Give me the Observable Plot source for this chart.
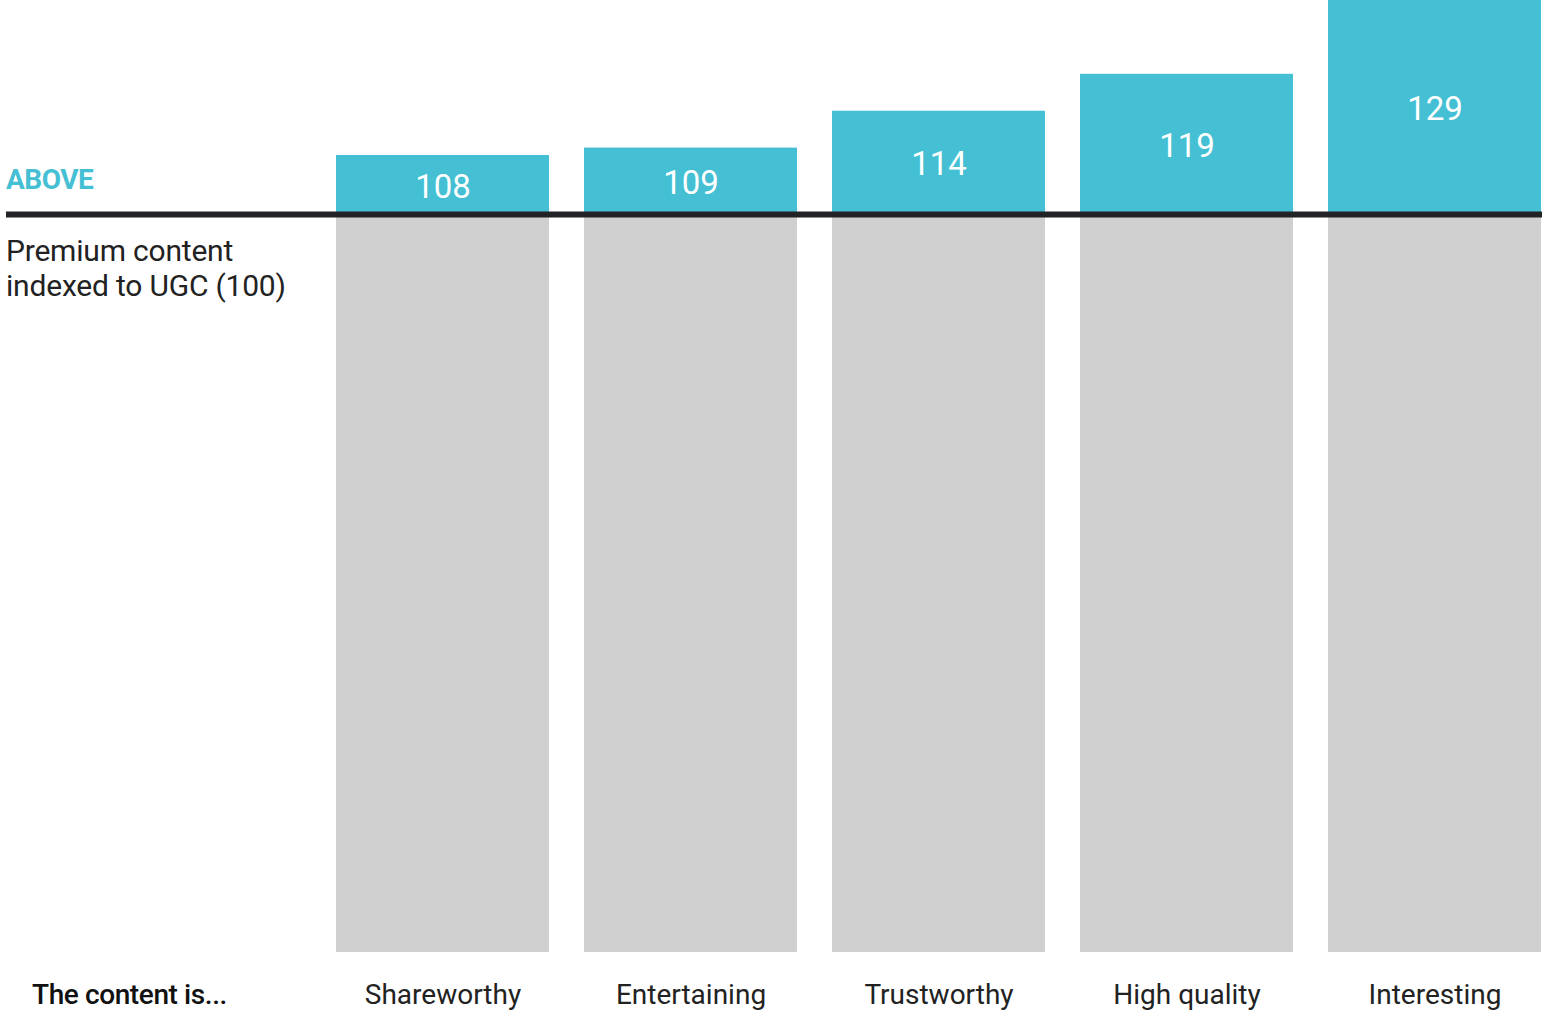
<!DOCTYPE html>
<html>
<head>
<meta charset="utf-8">
<script src="https://cdn.jsdelivr.net/npm/d3@7"></script>
<script src="https://cdn.jsdelivr.net/npm/@observablehq/plot@0.6"></script>
<style>
  html, body { margin: 0; padding: 0; background: #fff; }
  #wrap { position: relative; width: 1542px; height: 1010px; font-family: Roboto, "Liberation Sans", sans-serif; }
  #chart svg { display: block; }
  .ann { position: absolute; left: 6px; white-space: nowrap; }
  #above { top: 163px; color: #45bfd3; font-weight: 700; font-size: 28px; letter-spacing: -0.5px; }
  #premium { top: 233px; color: #222; font-size: 30px; line-height: 35px; letter-spacing: -0.2px; }
  #lead { left: 32px; top: 978px; color: #111; font-weight: 500; font-size: 28px; letter-spacing: -0.4px; }
</style>
</head>
<body>
<div id="wrap">
  <div id="chart"></div>
  <div class="ann" id="above">ABOVE</div>
  <div class="ann" id="premium">Premium content<br>indexed to UGC (100)</div>
  <div class="ann" id="lead">The content is...</div>
</div>
<script>
const categories = ["Shareworthy", "Entertaining", "Trustworthy", "High quality", "Interesting"];
const indexValues = [108, 109, 114, 119, 129];
const baseline = 100;

const data = categories.map((c, i) => ({category: c, value: indexValues[i]}));

const chart = Plot.plot({
  width: 1542,
  height: 1010,
  marginLeft: 335,
  marginRight: 0,
  marginTop: 0,
  marginBottom: 58,
  style: {fontFamily: "Roboto, 'Liberation Sans', sans-serif", background: "#fff"},
  x: {domain: categories, paddingInner: 0.141, paddingOuter: 0, label: null},
  y: {domain: [0, d3.max(indexValues)], axis: null},
  marks: [
    Plot.barY(data, {x: "category", y1: 0, y2: baseline, fill: "#d0d0d0"}),
    Plot.barY(data, {x: "category", y1: baseline, y2: "value", fill: "#45bfd3"}),
    Plot.ruleY([baseline], {stroke: "#222326", strokeWidth: 6, insetLeft: -329}),
    Plot.text(data, {
      x: "category",
      y: d => (d.value + baseline) / 2,
      text: d => String(d.value),
      fill: "#fff",
      fontSize: 33,
      dy: 2
    }),
    Plot.axisX({tickSize: 0, tickPadding: 32, fontSize: 28, fill: "#222", label: null})
  ]
});
document.getElementById("chart").appendChild(chart);
</script>
</body>
</html>
